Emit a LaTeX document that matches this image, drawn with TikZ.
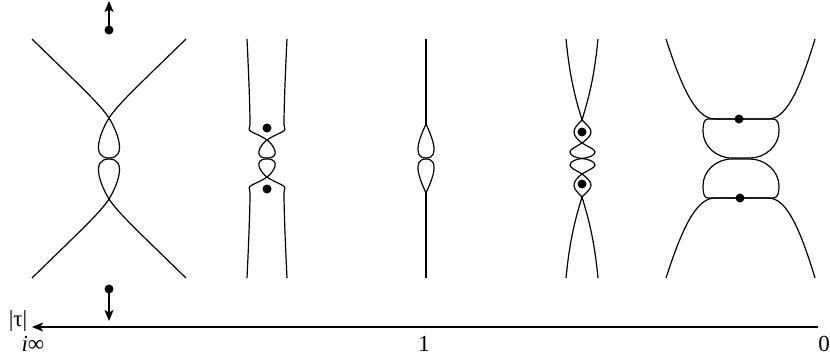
\documentclass[tikz,border=0pt]{standalone}
\usepackage{fontspec}
\setmainfont{Liberation Serif}
\usetikzlibrary{arrows.meta}
\begin{document}
\begin{tikzpicture}[x=1pt,y=-1pt,
  curve/.style={line width=1.2pt,line join=round},
  dot/.style={circle,fill=black,inner sep=0pt,minimum size=9pt},
  tip/.style={-{Stealth[length=11pt,width=9pt,inset=2.5pt]},line width=1.2pt},
  lbl/.style={inner sep=0pt,font=\fontsize{23}{26}\selectfont},
  mirror/.style={shift={(0,317)},yscale=-1}]
\useasboundingbox (0,0) rectangle (830,360);
% panel 1
\newcommand\pone{(32,39) .. controls (76,82) and (100,104) .. (109,118)
  .. controls (117,131) and (128,158) .. (109,158)
  .. controls (90,158) and (101,131) .. (109,118)
  .. controls (118,104) and (142,82) .. (186,39)}
\draw[curve] \pone;
\draw[curve,mirror] \pone;
% panel 2
\newcommand\ptwo{(247,39) .. controls (249,80) and (250,110) .. (250,124)
  .. controls (250,129) and (247,129) .. (252,132)
  .. controls (258,135) and (263,137) .. (267,140)
  .. controls (273,144) and (282,158) .. (267,158)
  .. controls (252,158) and (261,144) .. (267,140)
  .. controls (271,137) and (276,135) .. (282,132)
  .. controls (287,129) and (284,129) .. (284,124)
  .. controls (284,110) and (285,80) .. (287,39)}
\draw[curve] \ptwo;
\draw[curve,mirror] \ptwo;
% panel 3
\newcommand\pthree{(426,39) -- (426,124)
  .. controls (430,133) and (442,158) .. (426,158)
  .. controls (410,158) and (422,133) .. (426,124) -- (426,39)}
\draw[curve,line width=1.7pt] (426,39) -- (426,124) (426,193) -- (426,278);
\draw[curve] \pthree;
\draw[curve,mirror] \pthree;
% panel 4
\newcommand\pfour{(566,39) .. controls (570,80) and (576,100) .. (582,120)
  .. controls (587,125) and (591,128) .. (591,132)
  .. controls (591,136) and (586,140) .. (582,143)
  .. controls (576,147) and (570,149) .. (570,152)
  .. controls (570,156) and (577,158) .. (582,158.5)
  .. controls (587,158) and (595,156) .. (595,152)
  .. controls (595,149) and (588,147) .. (582,143)
  .. controls (578,140) and (574,136) .. (574,132)
  .. controls (574,128) and (577,125) .. (582,120)
  .. controls (588,100) and (594,80) .. (598,39)}
\draw[curve] \pfour;
\draw[curve,mirror] \pfour;
% panel 5
\newcommand\pfivea{(666,39) .. controls (684,95) and (698,119) .. (715,119)
  -- (768,119) .. controls (785,119) and (798,95) .. (815,39)}
\newcommand\pfiveb{(708,119) -- (773,119)
  .. controls (778,119) and (779,124) .. (779,131)
  .. controls (779,146) and (765,158) .. (750,158) -- (732,158)
  .. controls (716,158) and (703,146) .. (703,131)
  .. controls (703,124) and (704,119) .. (708,119) -- cycle}
\draw[curve] \pfivea;
\draw[curve,mirror] \pfivea;
\draw[curve] \pfiveb;
\draw[curve,mirror] \pfiveb;
% dots
\node[dot] (d1t) at (109,30) {};
\node[dot] (d1b) at (109,289) {};
\node[dot] (d2t) at (267,128) {};
\node[dot] (d2b) at (267,189) {};
\node[dot] (d4t) at (582,132) {};
\node[dot] (d4b) at (582,184) {};
\node[dot] (d5t) at (739,119) {};
\node[dot] (d5b) at (740,198) {};
\coordinate (up) at (109,1);
\coordinate (down) at (109,321);
\draw[tip] (d1t.center) -- (up);
\draw[tip] (d1b.center) -- (down);
% axis
\coordinate (ax0) at (818,327);
\coordinate (axend) at (32,327);
\draw[tip] (ax0) -- (axend);
\node[lbl] (tau) at (18,321) {|τ|};
\node[lbl] (iinf) at (33,344) {\textit{i}∞};
\node[lbl] (one) at (424,344) {1};
\node[lbl] (zero) at (824,344) {0};
\end{tikzpicture}
\end{document}
